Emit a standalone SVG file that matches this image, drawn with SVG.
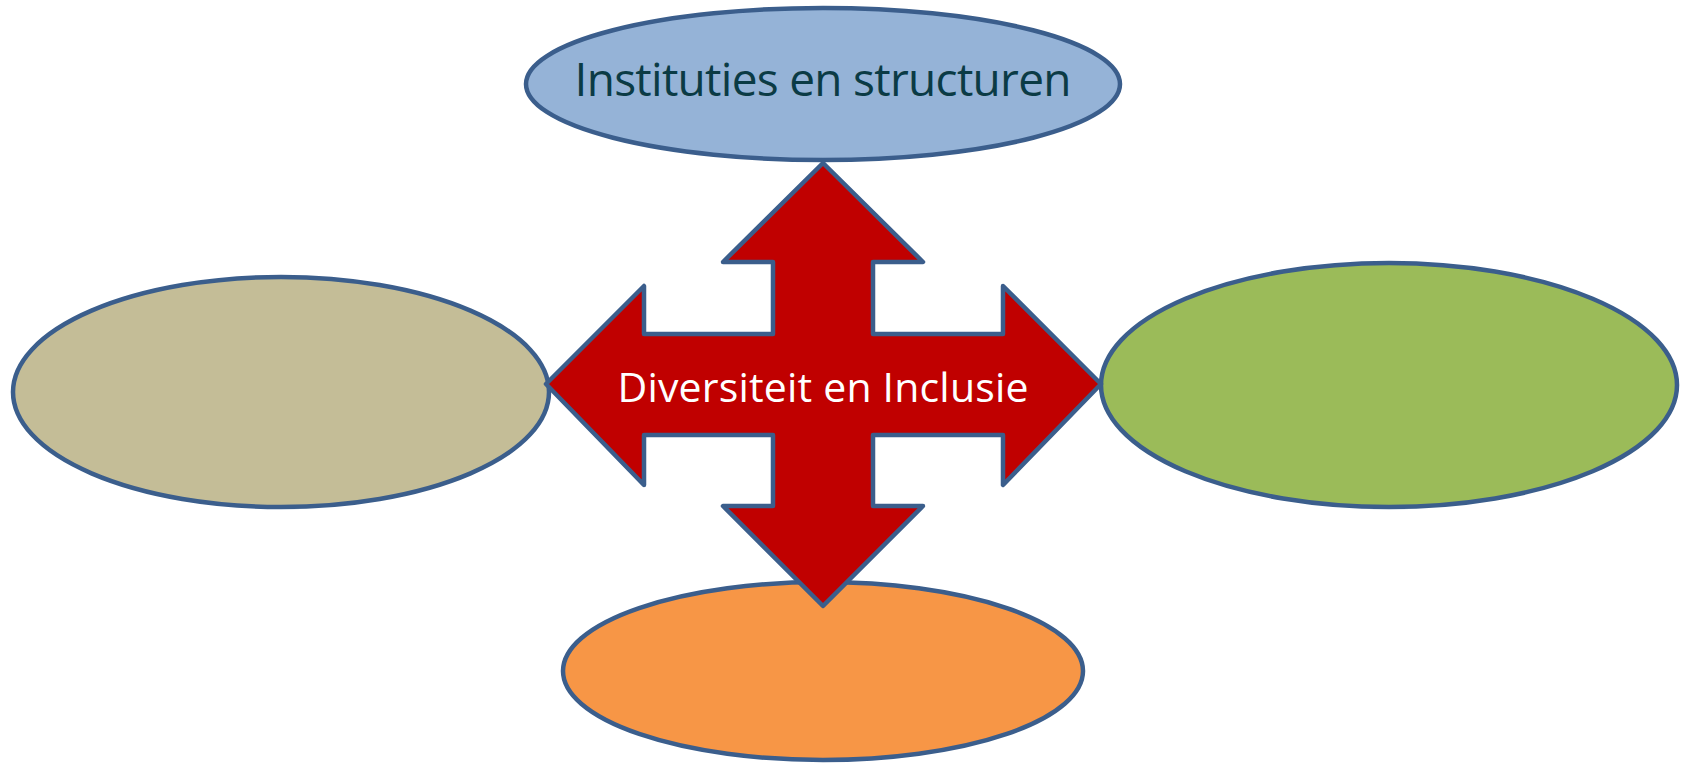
<svg xmlns="http://www.w3.org/2000/svg" width="1684" height="764" viewBox="0 0 1684 764">
<style>
.node{stroke:#3b5e8c;stroke-width:4.5}
.lbl{font-family:"Open Sans","Noto Sans","Liberation Sans",sans-serif;text-anchor:middle}
</style>
<rect width="1684" height="764" fill="#ffffff"/>
<g id="node-bottom"><ellipse class="node" cx="823" cy="671" rx="260" ry="89" fill="#f79646"/></g>
<g id="node-left"><ellipse class="node" cx="281" cy="392" rx="268" ry="115" fill="#c4bd97"/></g>
<g id="node-right"><ellipse class="node" cx="1389" cy="385" rx="288" ry="122" fill="#9bbb59"/></g>
<g id="node-top">
<ellipse class="node" cx="823" cy="84" rx="297" ry="76" fill="#95b3d7"/>
<text class="lbl" x="823" y="96" font-size="46" fill="#0b3b45" textLength="497">Instituties en structuren</text>
</g>
<g id="connectors">
<g id="node-center">
<path class="node" stroke-linejoin="round" fill="#c00000" d="M823,163 L923,262 L873,262 L873,334 L1003,334 L1003,286 L1101,384 L1003,485 L1003,435 L873,435 L873,506 L923,506 L823,606 L723,506 L773,506 L773,435 L644,435 L644,485 L546,384 L644,286 L644,334 L773,334 L773,262 L723,262 Z"/>
<text class="lbl" x="823" y="402" font-size="41" fill="#ffffff" textLength="411">Diversiteit en Inclusie</text>
</g>
</g>
</svg>
